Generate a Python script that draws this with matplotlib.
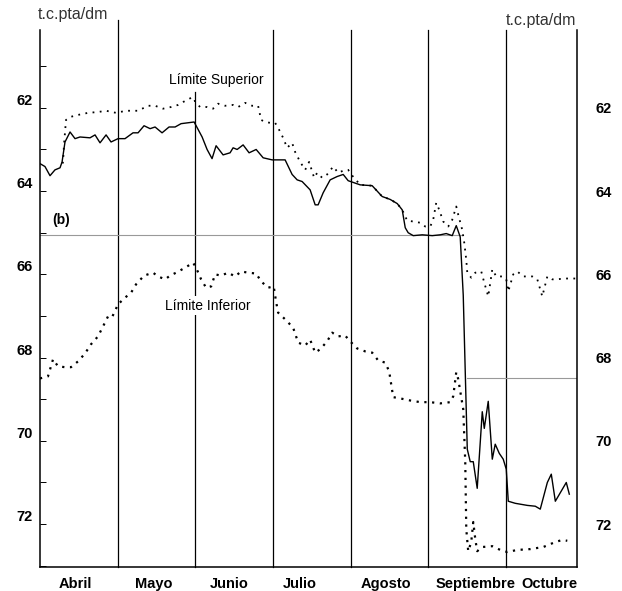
#tipo de cambio peseta / marco, abril-octubre
#banda de fluctuacion con limite superior e inferior

import matplotlib.pyplot as plt

plt.rcParams['font.family'] = ['Liberation Sans', 'DejaVu Sans']

# x en meses desde el 1 de abril, y en pesetas por marco
actual_x = [0.000, 0.064, 0.129, 0.193, 0.258, 0.284, 0.322, 0.387, 0.451, 0.515,
            0.644, 0.709, 0.773, 0.851, 0.915, 1.005, 1.095, 1.198, 1.263, 1.340,
            1.418, 1.482, 1.572, 1.662, 1.740, 1.817, 1.985, 2.088, 2.152, 2.216,
            2.268, 2.358, 2.448, 2.487, 2.539, 2.616, 2.693, 2.784, 2.874, 2.990,
            3.157, 3.247, 3.312, 3.376, 3.479, 3.544, 3.582, 3.647, 3.737, 3.827,
            3.905, 3.969, 4.124, 4.278, 4.407, 4.510, 4.601, 4.665, 4.704, 4.742,
            4.807, 4.923, 5.052, 5.155, 5.232, 5.309, 5.361, 5.412, 5.451, 5.503,
            5.541, 5.580, 5.631, 5.696, 5.722, 5.773, 5.825, 5.863, 5.915, 5.966,
            6.005, 6.031, 6.121, 6.276, 6.379, 6.443, 6.534, 6.585, 6.637, 6.778,
            6.817]
actual_y = [63.34, 63.41, 63.63, 63.49, 63.44, 63.30, 62.82, 62.58, 62.74, 62.70,
            62.72, 62.65, 62.84, 62.65, 62.82, 62.74, 62.74, 62.60, 62.60, 62.43,
            62.50, 62.46, 62.60, 62.46, 62.46, 62.38, 62.34, 62.70, 63.00, 63.22,
            62.91, 63.13, 63.08, 62.96, 63.00, 62.89, 63.08, 63.00, 63.20, 63.25,
            63.25, 63.60, 63.73, 63.77, 63.97, 64.33, 64.33, 64.04, 63.73, 63.65,
            63.60, 63.75, 63.85, 63.87, 64.13, 64.20, 64.30, 64.45, 64.88, 65.00,
            65.07, 65.05, 65.07, 65.05, 65.02, 65.07, 64.83, 65.10, 66.50, 70.20,
            70.50, 70.50, 71.14, 69.30, 69.70, 69.05, 70.44, 70.08, 70.30, 70.44,
            70.68, 71.45, 71.50, 71.55, 71.57, 71.64, 71.00, 70.80, 71.45, 71.00,
            71.28]

upper_x = [0.284, 0.296, 0.309, 0.335, 0.387, 0.490, 0.619, 0.747, 0.851, 0.979,
           1.108, 1.263, 1.392, 1.482, 1.585, 1.688, 1.778, 1.843, 1.946, 1.985,
           1.997, 2.062, 2.152, 2.229, 2.294, 2.384, 2.487, 2.552, 2.642, 2.732,
           2.809, 2.848, 2.900, 2.964, 3.028, 3.067, 3.131, 3.183, 3.247, 3.286,
           3.351, 3.415, 3.466, 3.531, 3.570, 3.634, 3.698, 3.776, 3.840, 3.905,
           3.969, 4.008, 4.124, 4.278, 4.407, 4.510, 4.601, 4.665, 4.729, 4.807,
           4.897, 4.961, 5.026, 5.064, 5.103, 5.142, 5.193, 5.258, 5.309, 5.361,
           5.387, 5.438, 5.464, 5.490, 5.503, 5.554, 5.606, 5.683, 5.722, 5.773,
           5.825, 5.876, 5.954, 6.005, 6.031, 6.095, 6.147, 6.224, 6.340, 6.405,
           6.469, 6.534, 6.598, 6.662, 6.740, 6.894]
upper_y = [63.30, 63.32, 62.89, 62.29, 62.22, 62.17, 62.12, 62.10, 62.07, 62.12,
           62.07, 62.07, 61.95, 61.95, 62.02, 61.98, 61.93, 61.86, 61.76, 61.76,
           61.86, 61.98, 61.98, 62.02, 61.90, 61.95, 61.93, 61.98, 61.88, 61.95,
           61.95, 62.29, 62.34, 62.36, 62.36, 62.48, 62.72, 62.96, 62.84, 63.06,
           63.30, 63.49, 63.30, 63.68, 63.56, 63.68, 63.60, 63.41, 63.56, 63.51,
           63.49, 63.60, 63.85, 63.87, 64.13, 64.20, 64.30, 64.45, 64.71, 64.73,
           64.76, 64.85, 64.85, 64.69, 64.28, 64.45, 64.73, 64.85, 64.69, 64.37,
           64.57, 64.93, 65.24, 65.65, 65.96, 66.08, 65.96, 65.93, 66.20, 66.53,
           65.88, 66.05, 66.05, 66.12, 66.41, 66.00, 65.93, 66.05, 66.05, 66.12,
           66.53, 66.05, 66.12, 66.12, 66.10, 66.10]

lower_x = [0.000, 0.103, 0.168, 0.232, 0.322, 0.399, 0.490, 0.580, 0.657, 0.747,
           0.812, 0.876, 0.928, 1.005, 1.095, 1.173, 1.237, 1.340, 1.456, 1.521,
           1.611, 1.675, 1.753, 1.869, 1.972, 2.010, 2.075, 2.139, 2.204, 2.255,
           2.332, 2.423, 2.513, 2.590, 2.680, 2.784, 2.848, 2.938, 3.010, 3.040,
           3.067, 3.157, 3.260, 3.325, 3.415, 3.479, 3.544, 3.608, 3.698, 3.763,
           3.840, 3.930, 3.995, 4.085, 4.188, 4.278, 4.356, 4.446, 4.497, 4.523,
           4.549, 4.639, 4.768, 4.897, 5.026, 5.155, 5.284, 5.322, 5.361, 5.387,
           5.425, 5.451, 5.477, 5.490, 5.515, 5.554, 5.580, 5.606, 5.631, 5.696,
           5.825, 5.928, 6.018, 6.147, 6.314, 6.482, 6.637, 6.727, 6.791]
lower_y = [68.50, 68.45, 68.04, 68.21, 68.23, 68.23, 68.09, 67.90, 67.68, 67.49,
           67.25, 67.01, 67.03, 66.72, 66.56, 66.44, 66.24, 66.03, 65.96, 66.05,
           66.12, 66.03, 65.96, 65.84, 65.72, 65.84, 66.12, 66.32, 66.29, 66.00,
           66.03, 65.96, 66.05, 65.93, 65.96, 65.98, 66.17, 66.32, 66.29, 66.65,
           66.92, 67.08, 67.28, 67.64, 67.71, 67.57, 67.88, 67.80, 67.61, 67.40,
           67.49, 67.47, 67.61, 67.78, 67.85, 67.88, 68.07, 68.12, 68.33, 68.64,
           68.95, 68.98, 69.03, 69.07, 69.07, 69.10, 69.07, 68.93, 68.35, 68.52,
           68.95, 69.24, 70.51, 72.12, 72.65, 72.43, 71.95, 72.36, 72.65, 72.55,
           72.53, 72.62, 72.67, 72.62, 72.60, 72.55, 72.43, 72.38, 72.40]

months = ['Abril', 'Mayo', 'Junio', 'Julio', 'Agosto', 'Septiembre', 'Octubre']
month_pos = [0.45, 1.47, 2.44, 3.35, 4.46, 5.61, 6.56]
bounds = [1, 2, 3, 4, 5, 6]

# paridades centrales (b)
central_old = 65.05
central_new = 68.5

fig = plt.figure(figsize=(6.22, 5.91), dpi=100)
ax = fig.add_axes([40/622, 1-567/591, 537.3/622, 537/591])

ax.set_xlim(0, 6.92)
ax.set_ylim(73.03, 60.13)

# lineas de separacion de meses
for b in bounds:
    top = 60.13
    if b == 1:
        top = 59.89
    if b == 2:
        top = 61.62
    ax.plot([b, b], [73.03, top], color='black', lw=0.9, clip_on=False, zorder=1)

ax.plot([0, 5.43], [central_old, central_old], color='#999999', lw=0.8, zorder=1)
ax.plot([5.50, 6.92], [central_new, central_new], color='#999999', lw=0.8, zorder=1)

ax.plot(upper_x, upper_y, color='black', lw=1.3, linestyle=(0, (1, 3)), zorder=3)
ax.plot(lower_x, lower_y, color='black', lw=1.6, linestyle=(0, (1, 2.5)), zorder=3)
ax.plot(actual_x, actual_y, color='black', lw=1.0, zorder=4)

ax.spines['top'].set_visible(False)
for s in ['left', 'right', 'bottom']:
    ax.spines[s].set_linewidth(1.1)

ax.set_yticks([62, 64, 66, 68, 70, 72])
ax.set_yticks([61, 63, 65, 67, 69, 71, 73], minor=True)
ax.tick_params(axis='y', which='both', direction='in', length=4, width=0.7,
               right=True, labelsize=10.5, pad=5)
for lab in ax.get_yticklabels():
    lab.set_fontweight('bold')
    lab.set_verticalalignment('bottom')

ax2 = ax.twinx()
ax2.set_ylim(ax.get_ylim())
ax2.set_yticks([62, 64, 66, 68, 70, 72])
ax2.tick_params(axis='y', direction='in', length=0, labelsize=10.5, pad=13)
for lab in ax2.get_yticklabels():
    lab.set_fontweight('bold')
for s in ax2.spines.values():
    s.set_visible(False)

ax.set_xticks(month_pos)
ax.set_xticklabels(months, fontsize=10.5, fontweight='bold')
ax.tick_params(axis='x', length=0, pad=7)

fig.text(38/622, 1-14/591, 't.c.pta/dm', fontsize=11.5, color='#333333',
         ha='left', va='center')
fig.text(576/622, 1-20/591, 't.c.pta/dm', fontsize=11.5, color='#333333',
         ha='right', va='center')

ax.text(2.27, 61.33, 'Límite Superior', fontsize=10, ha='center', va='center',
        bbox=dict(facecolor='white', edgecolor='none', pad=1), zorder=5)
ax.text(2.16, 66.75, 'Límite Inferior', fontsize=10, ha='center', va='center',
        bbox=dict(facecolor='white', edgecolor='none', pad=1.5), zorder=5)
ax.text(0.16, 64.7, '(b)', fontsize=10, fontweight='bold', ha='left', va='center')

fig.savefig('out.png', dpi=100)
